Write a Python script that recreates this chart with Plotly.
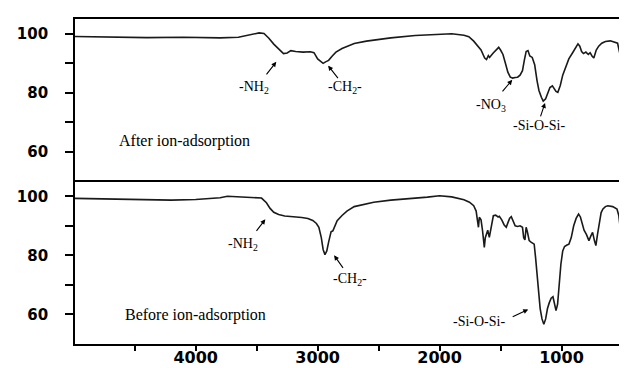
import plotly.graph_objects as go
from plotly.subplots import make_subplots

# After ion-adsorption (top panel)
wn_after = [4990, 4700, 4400, 4100, 3800, 3650, 3550, 3480, 3440, 3400, 3360, 3320, 3280, 3250,
            3220, 3180, 3120, 3060, 3030, 3000, 2975, 2955, 2935, 2910, 2880, 2850, 2800, 2700,
            2600, 2400, 2200, 2000, 1900, 1800, 1760, 1720, 1690, 1660, 1630, 1615, 1600, 1590,
            1560, 1530, 1515, 1500, 1480, 1460, 1440, 1420, 1400, 1380, 1360, 1340, 1320, 1305,
            1290, 1275, 1260, 1240, 1220, 1200, 1185, 1165, 1150, 1130, 1110, 1095, 1075, 1060,
            1045, 1030, 1010, 990, 970, 940, 910, 880, 865, 850, 835, 820, 800, 780, 765, 750,
            735, 715, 695, 670, 640, 600, 560, 540, 525, 510, 495, 470, 445, 430]
t_after = [99.1, 98.9, 98.7, 98.8, 98.6, 98.8, 99.8, 100.3, 100.1, 98.5, 96.5, 94.8, 93.3, 93.5,
           94.3, 94.0, 93.8, 93.9, 93.6, 91.5, 90.8, 90.0, 90.5, 91.0, 92.5, 93.8, 95.0, 96.7,
           97.5, 98.6, 99.4, 99.9, 100.0, 99.5, 99.0, 97.5, 96.0, 94.5, 91.8, 91.3, 92.6, 92.0,
           93.5, 95.0, 95.4, 94.5, 93.0, 90.0, 87.0, 85.3, 85.0, 85.2, 85.3, 86.0, 87.5, 91.0,
           94.0, 94.3, 92.5, 92.0, 89.5, 84.0, 80.8, 78.5, 77.2, 78.0, 80.5, 81.8, 82.4, 81.5,
           80.5, 80.2, 82.5, 86.0, 88.5, 91.5, 93.5, 95.5, 96.6, 95.8, 94.0, 93.3, 93.8, 93.0, 93.6, 92.5,
           91.8, 94.5, 95.8, 96.8, 97.4, 97.6, 97.2, 96.8, 94.0, 91.0, 90.6, 91.0, 90.7, 90.8]

# Before ion-adsorption (bottom panel)
wn_before = [4990, 4700, 4400, 4200, 4000, 3800, 3740, 3600, 3500, 3460, 3420, 3390, 3360, 3320,
             3270, 3200, 3130, 3080, 3040, 3010, 2990, 2970, 2955, 2940, 2925, 2910, 2890, 2875,
             2855, 2840, 2800, 2760, 2700, 2600, 2540, 2400, 2270, 2100, 2000, 1900, 1800, 1755,
             1720, 1700, 1690, 1681, 1674, 1660, 1648, 1640, 1633, 1625, 1616, 1605, 1592, 1580,
             1570, 1559, 1540, 1520, 1510, 1490, 1470, 1453, 1440, 1425, 1412, 1395, 1380, 1360,
             1340, 1320, 1310, 1300, 1290, 1280, 1265, 1250, 1224, 1212, 1200, 1190, 1175, 1160,
             1145, 1130, 1115, 1100, 1085, 1070, 1058, 1045, 1032, 1020, 1005, 990, 975, 955,
             939, 920, 900, 880, 860, 845, 830, 815, 795, 775, 760, 745, 730, 718, 705, 690,
             675, 660, 640, 620, 580, 545, 530, 515, 500, 490, 470, 450, 430]
t_before = [99.3, 99.1, 98.8, 98.7, 98.9, 99.5, 100.0, 99.8, 99.7, 99.4, 97.8, 95.9, 94.6, 93.8,
            93.3, 93.1, 92.8, 92.5, 91.8, 90.8, 89.5, 86.0, 82.0, 80.2, 81.5, 84.5, 88.0, 88.3,
            90.5, 91.7, 93.5, 95.0, 96.5, 97.5, 98.0, 98.7, 99.1, 99.7, 100.2, 99.8, 98.8, 98.0,
            96.8, 95.0, 92.0, 89.5, 92.9, 92.0, 88.5, 86.0, 82.7, 86.0, 87.2, 88.5, 86.1, 89.0,
            92.0, 93.4, 93.6, 93.0, 93.2, 92.0, 90.3, 89.5, 91.0, 92.6, 93.1, 91.5, 90.0, 89.8,
            90.0, 89.5, 86.0, 85.2, 89.5, 88.0, 85.0, 84.5, 83.8, 79.0, 73.0, 68.0, 62.0, 58.5,
            56.7, 58.5, 62.0, 64.0, 65.5, 66.0, 63.5, 61.3, 63.5, 70.3, 77.0, 81.5, 83.0, 83.5,
            83.8, 86.0, 90.0, 92.5, 94.0, 93.0, 90.5, 88.5, 87.0, 85.0, 86.5, 87.8, 85.0, 83.3, 87.0, 91.5,
            94.5, 95.7, 96.5, 96.8, 96.5, 95.7, 93.5, 88.0, 83.0, 81.0, 81.8, 82.3, 82.1]

x_tickvals = [4500, 4000, 3500, 3000, 2500, 2000, 1500, 1000, 500]
x_ticktext = ["", "4000", "", "3000", "", "2000", "", "1000", ""]
y_tickvals = [60, 70, 80, 90, 100]
y_ticktext = ["60", "", "80", "", "100"]

fig = make_subplots(rows=2, cols=1, shared_xaxes=True, vertical_spacing=0)
fig.add_trace(go.Scatter(x=wn_after, y=t_after, mode="lines",
                         line=dict(color="#1a1a1a", width=1.6)), row=1, col=1)
fig.add_trace(go.Scatter(x=wn_before, y=t_before, mode="lines",
                         line=dict(color="#1a1a1a", width=1.6)), row=2, col=1)

line_style = dict(showline=True, linecolor="black", linewidth=1.8,
                  showgrid=False, zeroline=False)
tickfont_x = dict(family="DejaVu Sans", size=16, color="black", weight="bold")
tickfont_y = dict(family="DejaVu Sans", size=15, color="black", weight="bold")

# top panel: only its top frame line (bottom edge is shared with the lower panel's frame)
fig.update_xaxes(range=[4990, 430], tickvals=x_tickvals, ticks="", showticklabels=False,
                 side="top", mirror=False, row=1, col=1, **line_style)
fig.update_xaxes(range=[4990, 430], tickvals=x_tickvals, ticktext=x_ticktext,
                 ticks="outside", ticklen=5, tickwidth=2, tickcolor="black",
                 ticklabelstandoff=-7, tickfont=tickfont_x, mirror=True,
                 row=2, col=1, **line_style)
for r in (1, 2):
    fig.update_yaxes(range=[50, 105], tickvals=y_tickvals, ticktext=y_ticktext,
                     ticks="outside", ticklen=8, tickwidth=2, tickcolor="black",
                     ticklabelstandoff=14, tickfont=tickfont_y, mirror=True,
                     row=r, col=1, **line_style)

serif = dict(family="Liberation Serif", size=14, color="black")
big = dict(family="Liberation Serif", size=16, color="black")

arrows = [
    # (xref, yref, tip x, tip y, ax, ay)
    ("x", "y", 3339, 90.5, -11, 14),
    ("x", "y", 2914, 89.2, 11, 14),
    ("x", "y", 1404, 84.4, -11, 13),
    ("x", "y", 1135, 76.6, -5, 15),
    ("x2", "y2", 3429, 92.2, -10, 13),
    ("x2", "y2", 2865, 80.0, 10, 14),
    ("x2", "y2", 1273, 61.7, -17, 8),
]
for xr, yr, x, y, ax, ay in arrows:
    fig.add_annotation(xref=xr, yref=yr, x=x, y=y, ax=ax, ay=ay, text="",
                       showarrow=True, arrowhead=2, arrowsize=0.9, arrowwidth=1.1,
                       arrowcolor="black")

labels = [
    ("x", "y", 3522, 81.7, "-NH<sub>2</sub>", serif),
    ("x", "y", 2776, 81.7, "-CH<sub>2</sub>-", serif),
    ("x", "y", 1576, 75.6, "-NO<sub>3</sub>", serif),
    ("x", "y", 1184, 68.8, "-Si-O-Si-", serif),
    ("x", "y", 4090, 63.7, "After ion-adsorption", big),
    ("x2", "y2", 3616, 83.7, "-NH<sub>2</sub>", serif),
    ("x2", "y2", 2735, 71.9, "-CH<sub>2</sub>-", serif),
    ("x2", "y2", 1673, 57.6, "-Si-O-Si-", serif),
    ("x2", "y2", 4000, 59.7, "Before ion-adsorption", big),
]
for xr, yr, x, y, txt, f in labels:
    fig.add_annotation(xref=xr, yref=yr, x=x, y=y, text=txt, showarrow=False, font=f)

fig.update_layout(width=627, height=368, margin=dict(l=67, r=2, t=11, b=32),
                  paper_bgcolor="white", plot_bgcolor="white", showlegend=False)

fig.write_html("out.html")
